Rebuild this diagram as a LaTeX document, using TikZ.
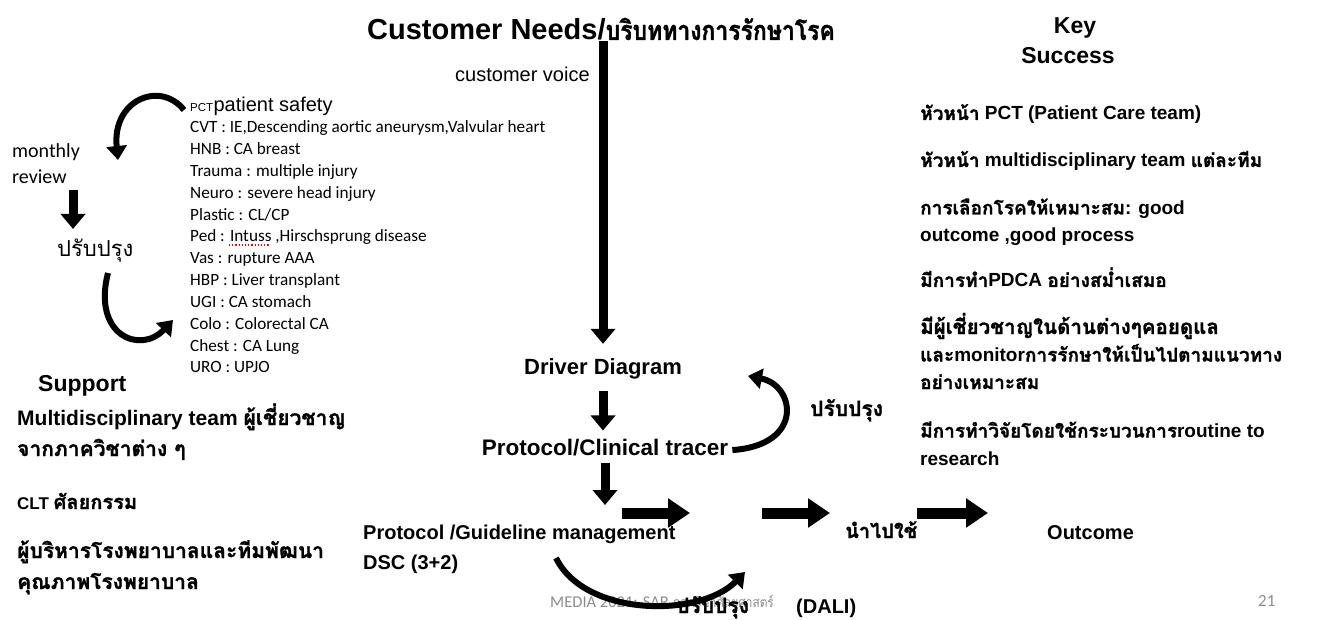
\documentclass[tikz,border=0pt]{standalone}
\usepackage{fontspec}
\setmainfont{Liberation Sans}
\newfontfamily\thaifont[Script=Thai,BoldFeatures={FakeBold=1.2}]{Loma}
\newfontfamily\thaicond[Script=Thai,FakeStretch=0.85,BoldFeatures={FakeBold=1.2}]{Loma}
\newfontfamily\calfont{Carlito}
\usetikzlibrary{arrows.meta,positioning}
\newcommand\thai[1]{{\thaifont #1}}
\newcommand\fsz[2]{\fontsize{#1}{#2}\selectfont}
\definecolor{footgray}{gray}{0.55}

\begin{document}
\begin{tikzpicture}[x=1pt,y=-1pt,
    lbl/.style={inner sep=0pt,anchor=base west,align=left},
    hdlbl/.style={inner sep=0pt,anchor=base,font=\bfseries\fsz{22}{26}},
    keytxt/.style={lbl,font=\bfseries\fsz{19}{27.5}},
    suptxt/.style={lbl,font=\bfseries\fsz{21}{31}},
    listtxt/.style={lbl,font=\calfont\fsz{17.2}{20}},
    blockarrow/.style={line width=9pt,-{Triangle[length=15pt,width=24pt]}},
    widearrow/.style={line width=11pt,-{Triangle[length=22pt,width=28pt]}},
    bendarrow/.style={line width=6pt,-{Triangle[length=14pt,width=20pt]}}]
  \useasboundingbox (0,0) rectangle (1325,620);

  % Main column
  \node[hdlbl,font=\bfseries\fsz{29}{32}] (needs) at (601,40) {Customer Needs/{\thaicond\fsz{27}{32}บริบททางการรักษาโรค}};
  \node[lbl,font=\fsz{20}{24}] (voice) at (455,82) {customer voice};
  \node[hdlbl] (driver) at (603,374) {Driver Diagram};
  \node[hdlbl,font=\bfseries\fsz{22.5}{26}] (tracer) at (605,455) {Protocol/Clinical tracer};
  \node[lbl,font=\bfseries\fsz{20}{30}] (guide) at (363,569) {Protocol /Guideline management\\DSC (3+2)};
  \node[lbl,font=\bfseries\fsz{20}{24}] (use) at (845,538) {\thai{นำไปใช้}};
  \node[lbl,font=\bfseries\fsz{20}{24}] (outcome) at (1047,539) {Outcome};
  \node[lbl,font=\bfseries\fsz{21}{24}] (imp1) at (810,416) {\thai{ปรับปรุง}};

  % Footer
  \node[lbl,font=\calfont\fsz{16.5}{20},text=footgray] (foot) at (550,607) {MEDIA 2021: SAR {\thaicond\fsz{14}{20}ภาควิชาศัลยศาสตร์}};
  \node[lbl,font=\calfont\fsz{17}{20},text=footgray] (page) at (1258,606) {21};
  \node[lbl,font=\bfseries\fsz{21}{24}] (imp2) at (676,613) {\thai{ปรับปรุง}};
  \node[lbl,font=\bfseries\fsz{20}{24}] (dali) at (796,613) {(DALI)};

  % Flow arrows
  \draw[blockarrow,shorten >=14pt] (needs.south -| driver.north) -- (driver.north);
  \draw[blockarrow,shorten <=12pt,shorten >=8pt] (driver.south) -- (driver.south |- tracer.north);
  \coordinate (gtop) at (604,505);
  \draw[blockarrow,shorten <=7pt] (tracer.south) -- (tracer.south |- gtop);
  \coordinate (r1a) at (622,513);
  \coordinate (r1b) at (690,513);
  \coordinate (r2a) at (762,513);
  \coordinate (r2b) at (830,513);
  \coordinate (r3b) at (988,513);
  \draw[widearrow] (r1a) -- (r1b);
  \draw[widearrow] (r2a) -- (r2b);
  \draw[widearrow] (use.east |- r3b) -- (r3b);
  % Improvement loops
  \coordinate (loopr) at (748,376);
  \draw[bendarrow] ([xshift=4pt,yshift=-3pt]tracer.east) .. controls (805,445) and (795,385) .. (loopr);
  \coordinate (loopa) at (556,558);
  \coordinate (loopb) at (745,572);
  \draw[bendarrow] (loopa) .. controls (585,617) and (700,618) .. (loopb);

  % Left cycle
  \node[lbl,font=\calfont\fsz{20}{26}] (monthly) at (12,184) {monthly\\review};
  \node[lbl,font=\thaifont\fsz{22}{26}] (imp0) at (57,257) {ปรับปรุง};
  \coordinate (m1) at (73,190);
  \coordinate (m2) at (73,229);
  \draw[blockarrow] (m1) -- (m2);
  \coordinate (c1) at (184,110);
  \coordinate (c2) at (118,160);
  \draw[bendarrow] (c1) .. controls (160,80) and (112,100) .. (c2);
  \coordinate (c3) at (108,273);
  \coordinate (c4) at (173,320);
  \draw[bendarrow] (c3) .. controls (92,335) and (140,355) .. (c4);

  % Disease list
  \node[lbl,font=\fsz{11.5}{14}] (pct) at (190,112) {PCT};
  \node[lbl,font=\fsz{20}{24}] (safety) at (pct.base east) {patient safety};
  \foreach \txt [count=\i] in {{CVT : IE,Descending aortic aneurysm,Valvular heart},
      HNB : CA breast, Trauma : multiple injury, Neuro : severe head injury,
      Plastic : CL/CP, {Ped : Intuss ,Hirschsprung disease}, Vas : rupture AAA,
      HBP : Liver transplant, UGI : CA stomach, Colo : Colorectal CA,
      Chest : CA Lung, URO : UPJO}
    \node[listtxt] (dz\i) at (190,{111.2+21.8*\i}) {\txt};
  \draw[red,dotted,line width=1.2pt] (229,245) -- (270,245);

  % Support
  \node[lbl,font=\bfseries\fsz{23}{28}] (support) at (38,391) {Support};
  \node[suptxt] (team) at (17,456) {Multidisciplinary team \thai{ผู้เชี่ยวชาญ}\\\thai{จากภาควิชาต่าง ๆ}};
  \node[lbl,font=\bfseries\fsz{17}{20}] (clt) at (17,509) {CLT \thai{\fsz{20}{24}ศัลยกรรม}};
  \node[suptxt] (admin) at (17,589) {\thai{ผู้บริหารโรงพยาบาลและทีมพัฒนา}\\\thai{คุณภาพโรงพยาบาล}};

  % Key success
  \node[hdlbl,font=\bfseries\fsz{23}{28}] (key) at (1075,34) {Key};
  \node[hdlbl,font=\bfseries\fsz{23}{28}] (success) at (1068,64) {Success};
  \node[keytxt] (k1) at (920,120) {\thai{หัวหน้า} PCT (Patient Care team)};
  \node[keytxt] (k2) at (920,167) {\thai{หัวหน้า} multidisciplinary team \thai{แต่ละทีม}};
  \node[keytxt] (k3) at (920,242) {\thai{การเลือกโรคให้เหมาะสม}: good\\outcome ,good process};
  \node[keytxt] (k4) at (920,287) {\thai{มีการทำ}PDCA \thai{อย่างสม่ำเสมอ}};
  \node[keytxt] (k5) at (920,389) {\thai{\fsz{20.5}{27.5}มีผู้เชี่ยวชาญในด้านต่างๆคอยดูแล}\\\thai{และ}monitor\thai{การรักษาให้เป็นไปตามแนวทาง}\\\thai{อย่างเหมาะสม}};
  \node[keytxt] (k6) at (920,465) {\thai{มีการทำวิจัยโดยใช้กระบวนการ}routine to\\research};
\end{tikzpicture}
\end{document}
